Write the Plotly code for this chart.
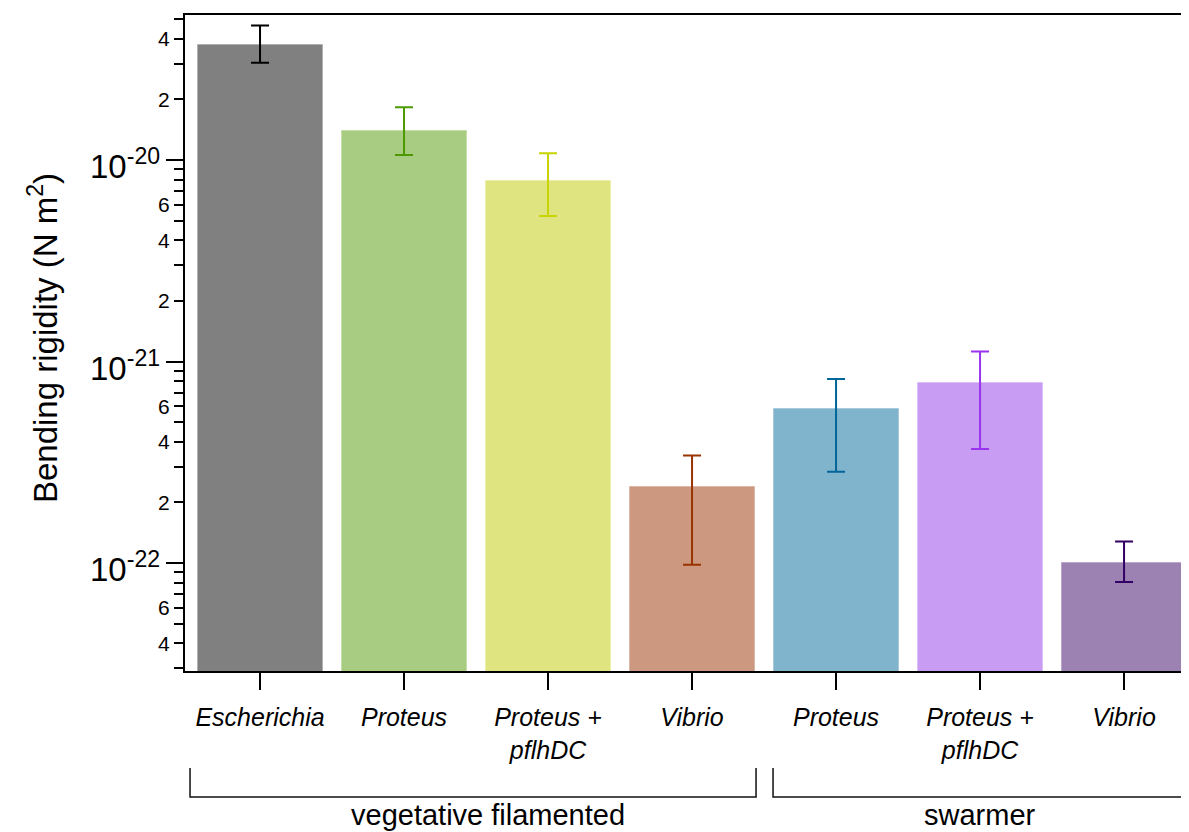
import plotly.graph_objects as go
import math

# ---------------- data ----------------
categories = ["Escherichia", "Proteus", "Proteus +<br>pflhDC", "Vibrio",
              "Proteus", "Proteus +<br>pflhDC", "Vibrio"]
values = [3.71e-20, 1.39e-20, 7.87e-21, 2.38e-22, 5.79e-22, 7.80e-22, 1.00e-22]
err_high = [4.66e-20, 1.83e-20, 1.08e-20, 3.42e-22, 8.18e-22, 1.12e-21, 1.28e-22]
err_low = [3.04e-20, 1.06e-20, 5.27e-21, 9.8e-23, 2.84e-22, 3.68e-22, 8.05e-23]
groups = ["vegetative filamented", "swarmer"]

bar_colors = ["#808080", "#a8cc82", "#e0e480", "#cc9980", "#80b3cc", "#c89cf2", "#9b82b3"]
edge_colors = ["#b0b0b0", "#c4dea8", "#ecefaa", "#dcb8a6", "#a8cade", "#dcc0f7", "#bba8cc"]
err_colors = ["#000000", "#4c9900", "#c8d400", "#993300", "#006699", "#9933ee", "#330066"]

major_labels = [4e-23, 6e-23, 2e-22, 4e-22, 6e-22, 2e-21, 4e-21, 6e-21, 2e-20, 4e-20]
decades = [1e-22, 1e-21, 1e-20]
minor_vals = [3e-23, 5e-23, 7e-23, 8e-23, 9e-23,
              3e-22, 5e-22, 7e-22, 8e-22, 9e-22,
              3e-21, 5e-21, 7e-21, 8e-21, 9e-21,
              3e-20, 5e-20]

y_range = [-22.536, -19.28]
x_range = [-0.521, 6.451]

fig = go.Figure()
for i in range(len(values)):
    fig.add_trace(go.Bar(
        x=[i], y=[values[i]], width=0.868,
        marker=dict(color=bar_colors[i], line=dict(color=edge_colors[i], width=1)),
        error_y=dict(type="data", symmetric=False,
                     array=[err_high[i] - values[i]],
                     arrayminus=[values[i] - err_low[i]],
                     color=err_colors[i], thickness=2, width=9),
        showlegend=False, hoverinfo="skip"))

tickvals = major_labels + decades
ticktext = [str(int(round(v / 10 ** math.floor(math.log10(v))))) for v in major_labels] + ["" for _ in decades]

fig.update_layout(
    width=1181, height=824,
    margin=dict(l=177, r=0, t=7, b=161),
    paper_bgcolor="white", plot_bgcolor="white",
    font=dict(family="Arial, Liberation Sans, sans-serif", color="black"),
    bargap=0,
    xaxis=dict(range=x_range, tickmode="array", tickvals=list(range(len(categories))),
               ticktext=["<i>%s</i>" % c for c in categories],
               tickfont=dict(size=25), ticks="outside", ticklen=17, tickwidth=2,
               ticklabelstandoff=6,
               tickcolor="black", showline=True, linewidth=2, linecolor="black",
               mirror=True, showgrid=False, zeroline=False),
    yaxis=dict(type="log", range=y_range, tickmode="array", tickvals=tickvals,
               ticktext=ticktext, tickfont=dict(size=21), ticks="outside",
               ticklen=9, tickwidth=2, tickcolor="black", showline=True,
               linewidth=2, linecolor="black", showgrid=False, zeroline=False,
               minor=dict(tickmode="array", tickvals=minor_vals, ticks="outside",
                          ticklen=9, tickwidth=2, tickcolor="black", showgrid=False)),
    yaxis2=dict(type="log", range=y_range, overlaying="y", side="left",
                tickmode="array", tickvals=decades, ticks="outside", ticklen=18,
                tickwidth=2, tickcolor="black", showticklabels=False,
                showline=False, showgrid=False, zeroline=False),
)
# invisible trace to activate yaxis2
fig.add_trace(go.Scatter(x=[0], y=[values[0]], yaxis="y2", mode="markers",
                         marker=dict(opacity=0), showlegend=False, hoverinfo="skip"))

# decade labels
for d in decades:
    e = int(round(math.log10(d)))
    fig.add_annotation(xref="paper", yref="y", x=-0.0229, y=math.log10(d),
                       xanchor="right", yanchor="middle", yshift=-4,
                       text="10<sup>%d</sup>" % e, showarrow=False,
                       font=dict(size=33, color="black"))

# y title
fig.add_annotation(xref="paper", yref="paper", x=-0.1414, y=0.5076,
                   xanchor="center", yanchor="middle", textangle=-90,
                   text="Bending rigidity (N m<sup>2</sup>)", showarrow=False,
                   font=dict(size=33, color="black"))

# group brackets
def xpx(px):
    return (px - 260) / 144.0

def ypaper(py):
    return (671 - py) / 656.0

bracket_px = [(190, 756), (773, 1188)]
label_px = [488, 980]
for (a, b), name, lx in zip(bracket_px, groups, label_px):
    x0, x1 = xpx(a), xpx(b)
    y0, y1 = ypaper(768), ypaper(797)
    fig.add_shape(type="path", xref="x", yref="paper",
                  path="M %f,%f L %f,%f L %f,%f L %f,%f" % (x0, y0, x0, y1, x1, y1, x1, y0),
                  line=dict(color="#111111", width=1.5))
    fig.add_annotation(xref="x", yref="paper", x=xpx(lx), y=ypaper(815),
                       xanchor="center", yanchor="middle", text=name,
                       showarrow=False, font=dict(size=29, color="black"))

fig.write_html("out.html")
